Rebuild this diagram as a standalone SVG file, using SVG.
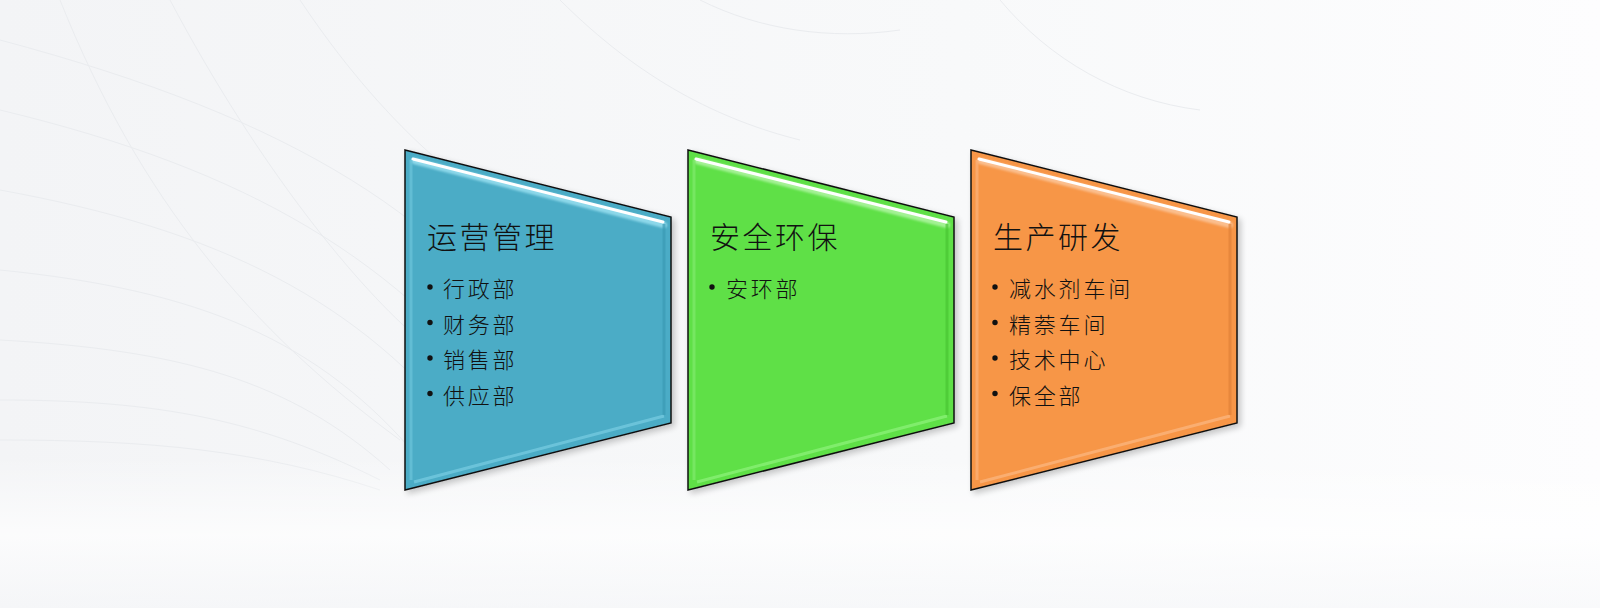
<svg xmlns="http://www.w3.org/2000/svg" width="1600" height="608" viewBox="0 0 1600 608">
<defs>
<linearGradient id="bg" x1="0" y1="0" x2="1" y2="0">
<stop offset="0" stop-color="#f3f4f6"/>
<stop offset="0.6" stop-color="#f8f9fa"/>
<stop offset="1" stop-color="#fdfdfe"/>
</linearGradient>
<linearGradient id="bgv" x1="0" y1="0" x2="0" y2="1">
<stop offset="0.75" stop-color="#ffffff" stop-opacity="0"/>
<stop offset="0.88" stop-color="#ffffff" stop-opacity="0.7"/>
<stop offset="1" stop-color="#f6f7f9" stop-opacity="0.6"/>
</linearGradient>
<filter id="sh" x="-10%" y="-10%" width="130%" height="130%">
<feGaussianBlur in="SourceAlpha" stdDeviation="3"/>
<feOffset dx="3" dy="3"/>
<feComponentTransfer><feFuncA type="linear" slope="0.22"/></feComponentTransfer>
<feMerge><feMergeNode/><feMergeNode in="SourceGraphic"/></feMerge>
</filter>
<filter id="soft" x="-5%" y="-20%" width="110%" height="140%"><feGaussianBlur stdDeviation="1.2"/></filter>
</defs>
<style>
.ln{fill:none;stroke:#eaecef;stroke-width:1}
.box{stroke:#111;stroke-width:1.5}
.hl{fill:none;stroke:#ffffff;stroke-width:3;stroke-linecap:round}
.glow{fill:none;stroke-width:6;stroke-linecap:round;opacity:0.8}
.sd{fill:none;stroke-width:3;opacity:0.7}
.t{font-family:"Noto Sans CJK SC","Noto Sans CJK JP",sans-serif;font-weight:300;fill:#111}
.ti{font-size:30px;letter-spacing:2.5px}
.it{font-size:22px;letter-spacing:2.8px}
.b{fill:#111}
</style>
<rect width="1600" height="608" fill="url(#bg)"/>
<g id="background-lines">
<path class="ln" d="M0 40 C 300 120 450 220 560 380"/>
<path class="ln" d="M0 110 C 250 170 400 260 520 420"/>
<path class="ln" d="M0 190 C 220 230 360 300 470 440"/>
<path class="ln" d="M0 270 C 200 290 320 340 420 460"/>
<path class="ln" d="M0 340 C 180 350 290 380 390 470"/>
<path class="ln" d="M0 400 C 160 400 260 420 380 480"/>
<path class="ln" d="M0 440 C 150 440 260 450 380 490"/>
<path class="ln" d="M60 0 C 140 200 250 330 400 440"/>
<path class="ln" d="M170 0 C 260 170 360 290 420 340"/>
<path class="ln" d="M300 0 C 380 120 470 200 560 240"/>
<path class="ln" d="M700 0 C 760 30 830 40 900 30"/>
<path class="ln" d="M560 0 C 640 80 720 120 800 140"/>
<path class="ln" d="M1000 0 C 1050 60 1120 100 1200 110"/>
</g>
<rect width="1600" height="608" fill="url(#bgv)"/>

<g id="node-yunying">
<polygon class="box" points="405,150 671,217 671,423 405,490" fill="#4bacc6" filter="url(#sh)"/>
<path class="glow" stroke="#9ee3f3" d="M414 161 L664 225" filter="url(#soft)"/>
<path class="hl" d="M413 159 L663 222"/>
<path class="sd" stroke="#79cde2" d="M414 482 L664 416"/>
<path class="sd" stroke="#3a9ab4" d="M664 224 L664 415"/>
<path class="sd" stroke="#6cc4da" d="M411 160 L411 480"/>
<text class="t ti" x="427" y="248">运营管理</text>
<circle class="b" cx="430" cy="287" r="2.7"/>
<text class="t it" x="443" y="297">行政部</text>
<circle class="b" cx="430" cy="322.5" r="2.7"/>
<text class="t it" x="443" y="332.5">财务部</text>
<circle class="b" cx="430" cy="358" r="2.7"/>
<text class="t it" x="443" y="368">销售部</text>
<circle class="b" cx="430" cy="393.5" r="2.7"/>
<text class="t it" x="443" y="403.5">供应部</text>
</g>

<g id="node-anquan">
<polygon class="box" points="688,150 954,217 954,423 688,490" fill="#5fe047" filter="url(#sh)"/>
<path class="glow" stroke="#b5f7a8" d="M697 161 L947 225" filter="url(#soft)"/>
<path class="hl" d="M696 159 L946 222"/>
<path class="sd" stroke="#8ff27c" d="M697 482 L947 416"/>
<path class="sd" stroke="#48c532" d="M947 224 L947 415"/>
<path class="sd" stroke="#80ea6c" d="M694 160 L694 480"/>
<text class="t ti" x="710" y="248">安全环保</text>
<circle class="b" cx="712" cy="287" r="2.7"/>
<text class="t it" x="726" y="297">安环部</text>
</g>

<g id="node-shengchan">
<polygon class="box" points="971,150 1237,217 1237,423 971,490" fill="#f79646" filter="url(#sh)"/>
<path class="glow" stroke="#fcc9a0" d="M980 161 L1230 225" filter="url(#soft)"/>
<path class="hl" d="M979 159 L1229 222"/>
<path class="sd" stroke="#fbb883" d="M980 482 L1230 416"/>
<path class="sd" stroke="#e08038" d="M1230 224 L1230 415"/>
<path class="sd" stroke="#fab07a" d="M977 160 L977 480"/>
<text class="t ti" x="993" y="248">生产研发</text>
<circle class="b" cx="995" cy="287" r="2.7"/>
<text class="t it" x="1009" y="297">减水剂车间</text>
<circle class="b" cx="995" cy="322.5" r="2.7"/>
<text class="t it" x="1009" y="332.5">精萘车间</text>
<circle class="b" cx="995" cy="358" r="2.7"/>
<text class="t it" x="1009" y="368">技术中心</text>
<circle class="b" cx="995" cy="393.5" r="2.7"/>
<text class="t it" x="1009" y="403.5">保全部</text>
</g>

<g id="connectors"></g>
</svg>
